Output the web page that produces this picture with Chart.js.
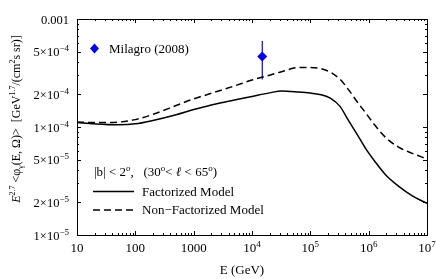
<!DOCTYPE html>
<html>
<head>
<meta charset="utf-8">
<script src="https://cdn.jsdelivr.net/npm/chart.js@4/dist/chart.umd.min.js"></script>
<style>html,body{margin:0;padding:0;background:#fff;}</style>
</head>
<body>
<canvas id="chart" width="436" height="279"></canvas>
<script>
// energias (GeV) e fluxos E^2.7 <phi>
const energies = [10, 20, 50, 100, 200, 500, 1e3, 2e3, 5e3, 1e4, 2e4, 3.2e4, 6.3e4, 1e5, 1.6e5, 2.2e5, 3.2e5, 4.5e5, 6.3e5, 8.9e5, 1.26e6, 2e6, 3.2e6, 5.6e6, 1e7];
const factorized = [1.10e-4, 1.07e-4, 1.05e-4, 1.07e-4, 1.15e-4, 1.30e-4, 1.45e-4, 1.60e-4, 1.78e-4, 1.92e-4, 2.07e-4, 2.16e-4, 2.11e-4, 2.06e-4, 1.98e-4, 1.85e-4, 1.56e-4, 1.15e-4, 8.6e-5, 6.3e-5, 4.85e-5, 3.55e-5, 2.85e-5, 2.3e-5, 1.96e-5];
const nonFactorized = [1.11e-4, 1.10e-4, 1.11e-4, 1.17e-4, 1.31e-4, 1.58e-4, 1.82e-4, 2.05e-4, 2.40e-4, 2.72e-4, 3.02e-4, 3.25e-4, 3.55e-4, 3.55e-4, 3.44e-4, 3.22e-4, 2.78e-4, 2.22e-4, 1.72e-4, 1.35e-4, 1.05e-4, 7.9e-5, 6.55e-5, 5.7e-5, 5.06e-5];

const milagroE = [1.5e4];
const milagroFlux = [4.5e-4];
const milagroErr = [1.75e-4];

const xTicks = [10, 100, 1000, 1e4, 1e5, 1e6, 1e7];
const xTickLabels = ['10', '100', '1000', '10^4', '10^5', '10^6', '10^7'];
const yTicks = [1e-5, 2e-5, 5e-5, 1e-4, 2e-4, 5e-4, 1e-3];
const yTickLabels = ['1×10^−5', '2×10^−5', '5×10^−5', '1×10^−4', '2×10^−4', '5×10^−4', '0.001'];

const FONT = '"Liberation Serif", "DejaVu Serif", serif';
const BLUE = '#0000ff';

// texto com sobrescritos/subscritos
function setFont(ctx, s, base) {
    const size = (s.sup || s.sub) ? Math.round(base * 0.7) : base;
    ctx.font = (s.it ? 'italic ' : '') + size + 'px ' + FONT;
}
function drawRich(ctx, segs, x, y, align, base) {
    base = base || 13;
    let w = 0;
    segs.forEach(s => { setFont(ctx, s, base); w += ctx.measureText(s.t).width; });
    let cx = align === 'right' ? x - w : align === 'center' ? x - w / 2 : x;
    ctx.textBaseline = 'alphabetic';
    ctx.textAlign = 'left';
    segs.forEach(s => {
        setFont(ctx, s, base);
        const dy = s.sup ? -base * 0.38 : s.sub ? base * 0.23 : 0;
        ctx.fillText(s.t, cx, y + dy);
        cx += ctx.measureText(s.t).width;
    });
}
function parseLabel(str) {
    const p = str.split('^');
    const segs = [{ t: p[0] }];
    if (p[1]) segs.push({ t: p[1], sup: true });
    return segs;
}

function minorValues(min, max) {
    const vals = [];
    for (let e = Math.floor(Math.log10(min)); e <= Math.ceil(Math.log10(max)); e++) {
        for (let m = 1; m <= 9; m++) {
            const v = m * Math.pow(10, e);
            if (v >= min * 0.999 && v <= max * 1.001) vals.push(v);
        }
    }
    return vals;
}

const framePlugin = {
    id: 'frame',
    beforeDatasetsDraw(chart) {
        const ctx = chart.ctx;
        const x = chart.scales.x, y = chart.scales.y;
        // barra de erro Milagro
        ctx.save();
        ctx.strokeStyle = BLUE;
        ctx.lineWidth = 1.2;
        milagroE.forEach((e, i) => {
            const px = x.getPixelForValue(e);
            ctx.beginPath();
            ctx.moveTo(px, y.getPixelForValue(milagroFlux[i] + milagroErr[i]));
            ctx.lineTo(px, y.getPixelForValue(milagroFlux[i] - milagroErr[i]));
            ctx.stroke();
        });
        ctx.restore();
    },
    afterDraw(chart) {
        const ctx = chart.ctx;
        const a = chart.chartArea;
        const x = chart.scales.x, y = chart.scales.y;
        ctx.save();
        ctx.strokeStyle = '#000';
        ctx.lineWidth = 1;
        ctx.strokeRect(Math.round(a.left) + 0.5, Math.round(a.top) + 0.5,
            Math.round(a.right) - Math.round(a.left), Math.round(a.bottom) - Math.round(a.top));

        // ticks para dentro
        minorValues(10, 1e7).forEach(v => {
            const major = xTicks.some(t => Math.abs(t - v) / t < 1e-6);
            const L = major ? 4 : 2;
            const px = Math.round(x.getPixelForValue(v)) + 0.5;
            ctx.beginPath();
            ctx.moveTo(px, a.bottom); ctx.lineTo(px, a.bottom - L);
            ctx.moveTo(px, a.top); ctx.lineTo(px, a.top + L);
            ctx.stroke();
        });
        minorValues(1e-5, 1e-3).forEach(v => {
            const major = yTicks.some(t => Math.abs(t - v) / t < 1e-6);
            const L = major ? 4 : 2;
            const py = Math.round(y.getPixelForValue(v)) + 0.5;
            ctx.beginPath();
            ctx.moveTo(a.left, py); ctx.lineTo(a.left + L, py);
            ctx.moveTo(a.right, py); ctx.lineTo(a.right - L, py);
            ctx.stroke();
        });

        // rótulos dos ticks
        ctx.fillStyle = '#000';
        xTicks.forEach((v, i) => {
            drawRich(ctx, parseLabel(xTickLabels[i]), x.getPixelForValue(v), a.bottom + 17, 'center');
        });
        yTicks.forEach((v, i) => {
            drawRich(ctx, parseLabel(yTickLabels[i]), a.left - 8, y.getPixelForValue(v) + 4.5, 'right', 12.5);
        });

        // títulos dos eixos
        drawRich(ctx, [{ t: 'E (GeV)' }], 242, 274, 'center');
        ctx.save();
        ctx.translate(20, 119);
        ctx.rotate(-Math.PI / 2);
        drawRich(ctx, [
            { t: 'E', it: true }, { t: '2.7', sup: true }, { t: ' <φ' }, { t: 'γ', sub: true },
            { t: '(E, Ω)>' }, { t: '  ' },
            { t: '[GeV' }, { t: '1.7', sup: true }, { t: '/(cm' }, { t: '2', sup: true }, { t: 's sr)]' }
        ], 0, 0, 'center', 12);
        ctx.restore();

        // legenda Milagro
        ctx.fillStyle = BLUE;
        ctx.beginPath();
        ctx.moveTo(94.5, 43.5); ctx.lineTo(99, 48.5); ctx.lineTo(94.5, 53.5); ctx.lineTo(90, 48.5);
        ctx.closePath();
        ctx.fill();
        ctx.fillStyle = '#000';
        drawRich(ctx, [{ t: 'Milagro (2008)' }], 109, 53, 'left');

        // legenda modelos
        drawRich(ctx, [
            { t: '|b| < 2' }, { t: 'o', sup: true }, { t: ',   (30' }, { t: 'o', sup: true },
            { t: '< ' }, { t: 'ℓ', it: true }, { t: ' < 65' }, { t: 'o', sup: true }, { t: ')' }
        ], 94, 176, 'left');
        ctx.lineWidth = 1.5;
        ctx.beginPath();
        ctx.moveTo(93, 191.5); ctx.lineTo(134, 191.5);
        ctx.stroke();
        drawRich(ctx, [{ t: 'Factorized Model' }], 142, 196, 'left');
        ctx.setLineDash([7, 4]);
        ctx.beginPath();
        ctx.moveTo(93, 210); ctx.lineTo(134, 210);
        ctx.stroke();
        ctx.setLineDash([]);
        drawRich(ctx, [{ t: 'Non−Factorized Model' }], 142, 214, 'left');
        ctx.restore();
    }
};

const ctx = document.getElementById('chart').getContext('2d');
const chart = new Chart(ctx, {
    type: 'line',
    data: {
        datasets: [{
            label: 'Factorized Model',
            data: energies.map((e, i) => ({ x: e, y: factorized[i] })),
            borderColor: '#000',
            borderWidth: 1.5,
            pointRadius: 0,
            cubicInterpolationMode: 'monotone',
            fill: false
        }, {
            label: 'Non−Factorized Model',
            data: energies.map((e, i) => ({ x: e, y: nonFactorized[i] })),
            borderColor: '#000',
            borderWidth: 1.5,
            borderDash: [7, 4],
            pointRadius: 0,
            cubicInterpolationMode: 'monotone',
            fill: false
        }, {
            label: 'Milagro (2008)',
            data: milagroE.map((e, i) => ({ x: e, y: milagroFlux[i] })),
            showLine: false,
            pointStyle: 'rectRot',
            pointRadius: 5,
            backgroundColor: BLUE,
            borderColor: BLUE,
            borderWidth: 0
        }]
    },
    options: {
        responsive: false,
        animation: false,
        layout: { padding: { left: 77, right: 9, top: 19, bottom: 44 } },
        plugins: {
            legend: { display: false },
            tooltip: { enabled: false }
        },
        scales: {
            x: {
                type: 'logarithmic', min: 10, max: 1e7,
                ticks: { display: false },
                grid: { display: false, drawTicks: false },
                border: { display: false }
            },
            y: {
                type: 'logarithmic', min: 1e-5, max: 1e-3,
                ticks: { display: false },
                grid: { display: false, drawTicks: false },
                border: { display: false }
            }
        }
    },
    plugins: [framePlugin]
});
</script>
</body>
</html>
